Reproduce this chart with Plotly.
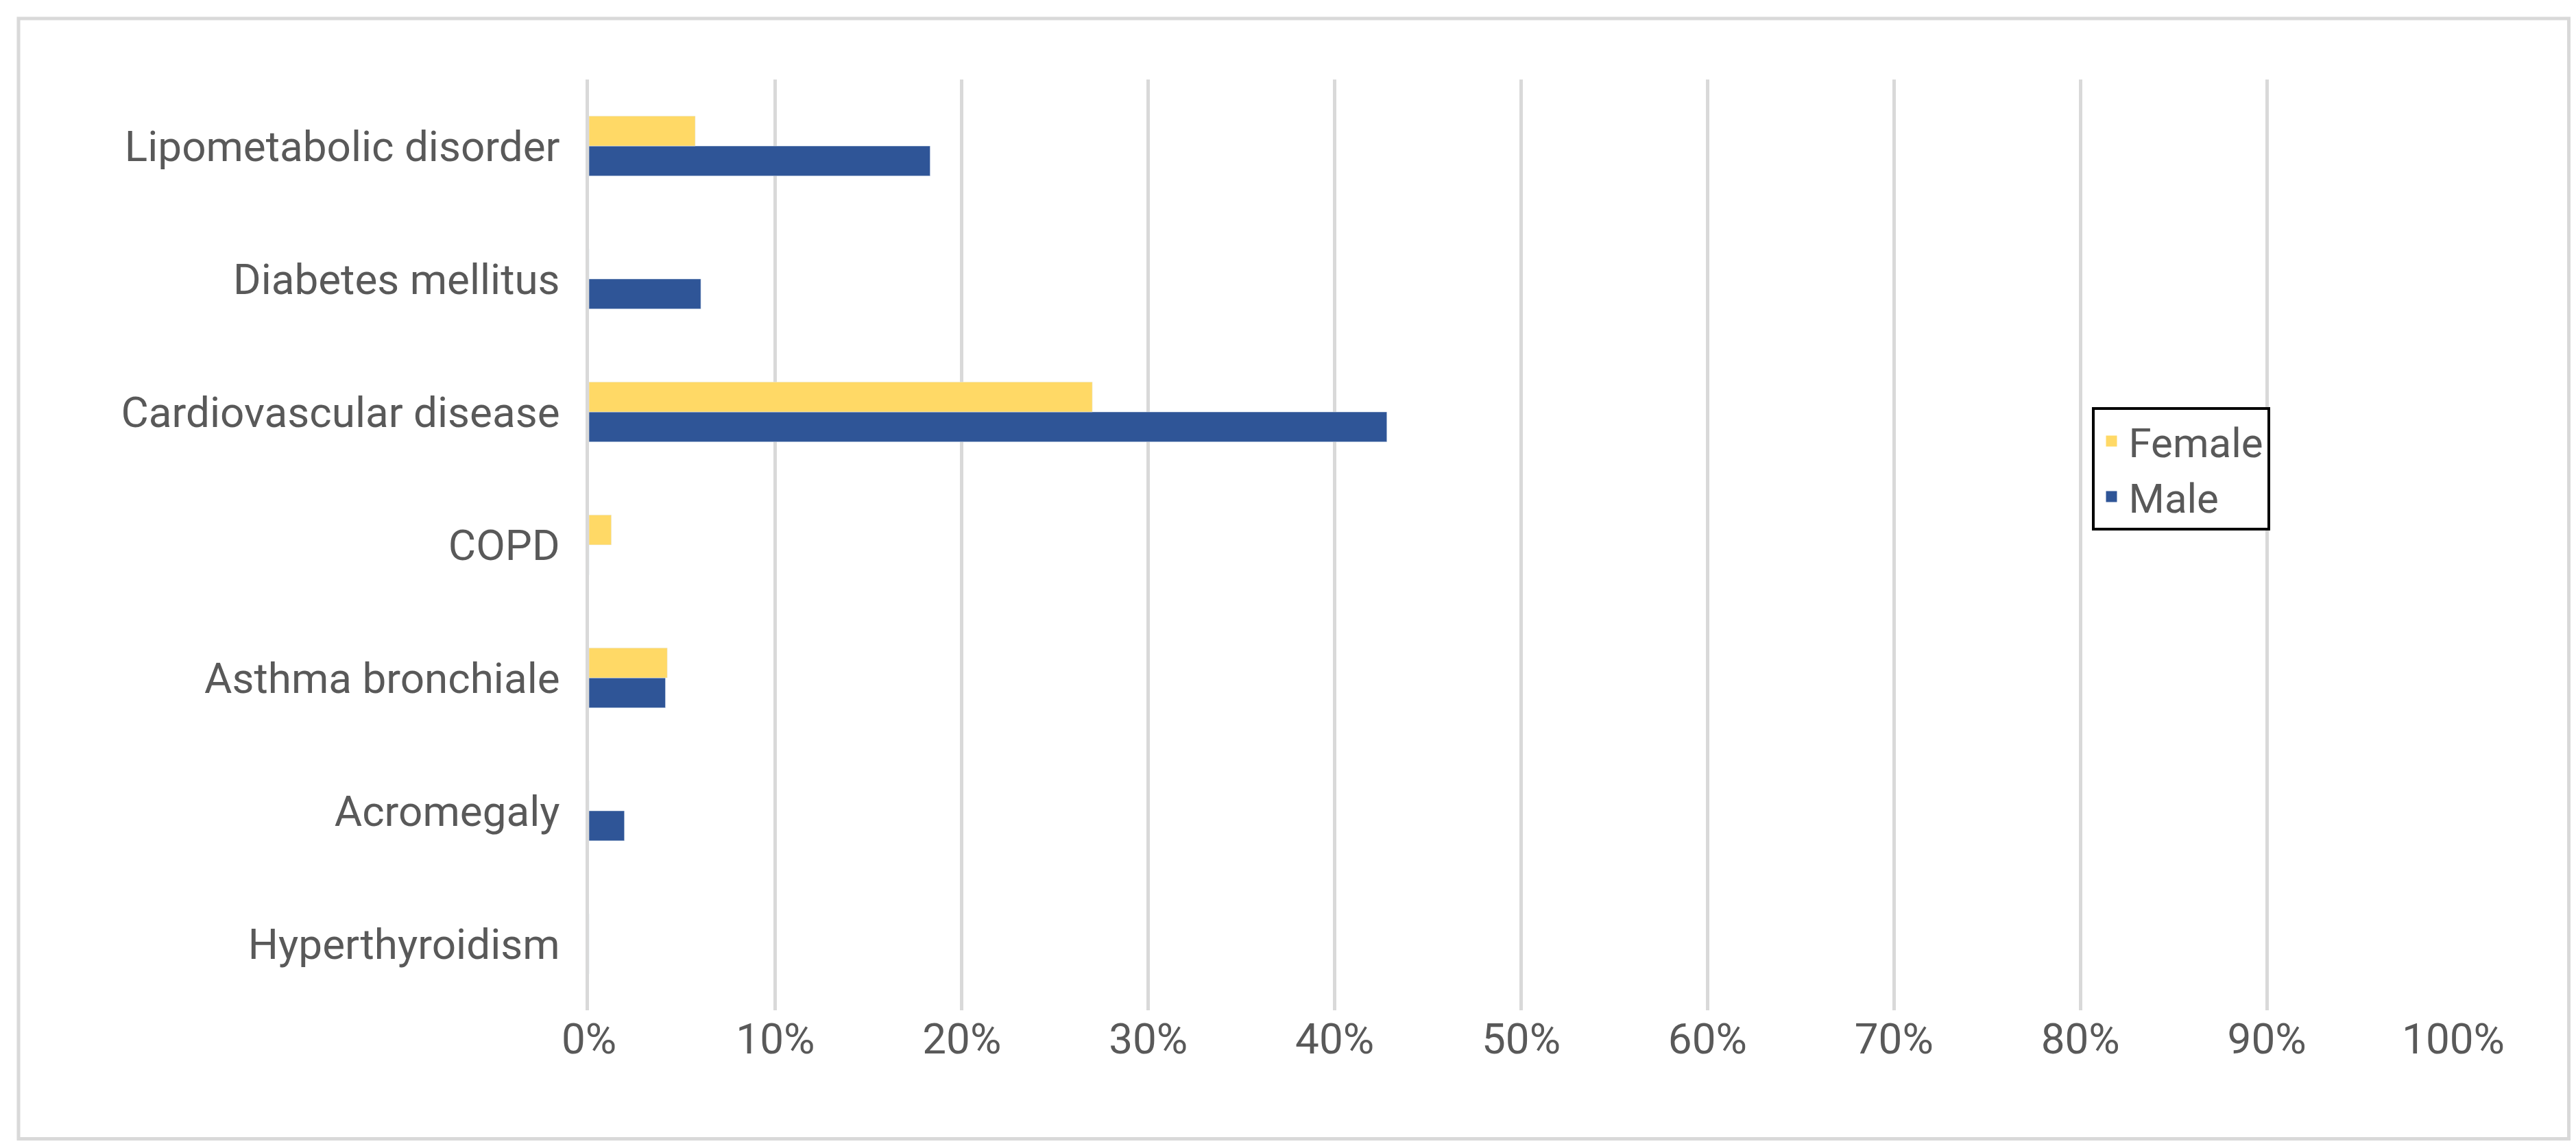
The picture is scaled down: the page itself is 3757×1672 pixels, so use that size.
import plotly.graph_objects as go

categories = ["Hyperthyroidism", "Acromegaly", "Asthma bronchiale", "COPD",
              "Cardiovascular disease", "Diabetes mellitus", "Lipometabolic disorder"]
female = [0, 0, 4.2, 1.2, 27.0, 0, 5.7]
male = [0, 1.9, 4.1, 0, 42.8, 6.0, 18.3]
x_ticks = list(range(0, 101, 10))

FONT = "Liberation Sans Narrow, Roboto, Liberation Sans"
FEMALE_C = "#FFD966"
MALE_C = "#2F5597"

fig = go.Figure()
fig.add_bar(y=categories, x=male, orientation="h", name="Male", marker_color=MALE_C,
            showlegend=False)
fig.add_bar(y=categories, x=female, orientation="h", name="Female", marker_color=FEMALE_C,
            showlegend=False)
# legend-only entries with bigger square swatches
for name, color in [("Female", FEMALE_C), ("Male", MALE_C)]:
    fig.add_scatter(x=[None], y=[None], mode="markers", name=name,
                    marker=dict(symbol="square", size=36, color=color))

fig.update_layout(
    width=3757, height=1672,
    barmode="group", bargap=0.55, bargroupgap=0,
    plot_bgcolor="white", paper_bgcolor="white",
    margin=dict(l=851, r=187, t=108, b=206),
    font=dict(family=FONT, size=62, color="#595959"),
    showlegend=True,
    legend=dict(traceorder="normal", x=0.806, y=0.648, xanchor="left", yanchor="top",
                bordercolor="black", borderwidth=4, font=dict(size=60),
                itemwidth=40, tracegroupgap=10, entrywidth=220),
    shapes=[dict(type="rect", xref="paper", yref="paper", x0=-0.306, x1=1.062,
                 y0=-0.138, y1=1.0655, line=dict(color="#D9D9D9", width=5))],
)
fig.update_xaxes(range=[0, 100], tickvals=x_ticks, ticktext=[f"{v}%" for v in x_ticks],
                 showgrid=True, gridcolor="#D9D9D9", gridwidth=5, zeroline=False,
                 showline=False, ticks="", ticklen=0)
fig.update_yaxes(showline=True, linecolor="#D9D9D9", linewidth=5, ticks="",
                 ticklabelstandoff=25)

fig.write_html("out.html")
